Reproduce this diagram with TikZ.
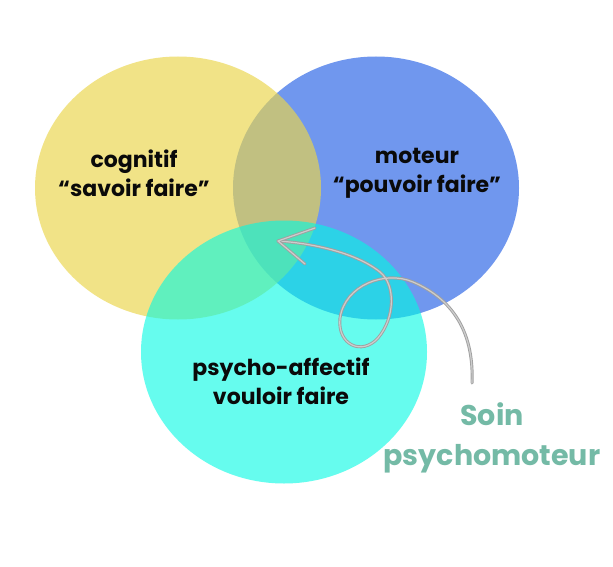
\documentclass[tikz,border=0pt]{standalone}
\usepackage{fontspec}
\setmainfont{Poppins}
\usetikzlibrary{shapes.geometric}
\definecolor{cblue}{RGB}{112,151,238}
\definecolor{cyellow}{RGB}{235,214,73}
\definecolor{ccyan}{RGB}{0,250,227}
\definecolor{cteal}{RGB}{116,186,166}
\definecolor{ctext}{RGB}{10,10,10}
\definecolor{carrow}{RGB}{160,160,160}
\definecolor{carrowin}{RGB}{205,205,205}
\tikzset{
  set/.style={ellipse, minimum width=286pt, minimum height=263pt, inner sep=0pt},
  lbl/.style={font=\bfseries\fontsize{22}{29}\selectfont, text=ctext, align=center, inner sep=0pt},
  soin/.style={font=\bfseries\fontsize{28.5}{40}\selectfont, text=cteal, align=center, inner sep=0pt},
  swirl/.style={draw=carrow, line width=0.9pt, double=carrowin, double distance=1.2pt, line cap=round, line join=round}
}
\begin{document}
\begin{tikzpicture}[x=1pt,y=-1pt]
\useasboundingbox (0,0) rectangle (613,567);
\fill[white] (0,0) rectangle (613,567);
\node[set, fill=cblue] (moteur) at (376,188) {};
\node[set, fill=cyellow, fill opacity=0.66] (cognitif) at (178,188) {};
\node[set, fill=ccyan, fill opacity=0.6] (affect) at (284,352) {};
\node[lbl] (tcog) at (134,173) {cognitif\\“savoir faire”};
\node[lbl] (tmot) at (417,173) {moteur\\“pouvoir faire”};
\node[lbl] (taff) at (281,381) {psycho-affectif\\vouloir faire};
\node[soin] (tsoin) at (492,438) {Soin\\psychomoteur};
\coordinate (tail) at (472,383);
\coordinate (tip) at (278,241);
\coordinate (b1) at (315,228);
\coordinate (b2) at (305,264);
\draw[swirl] (tail) .. controls (474,335) and (455,300) .. (413,282)
  .. controls (385,270) and (345,285) .. (340,318)
  .. controls (337,345) and (362,356) .. (378,338)
  .. controls (395,318) and (396,285) .. (380,272)
  .. controls (355,252) and (310,243) .. (tip);
\draw[swirl] (b1) -- (tip) -- (b2);
\end{tikzpicture}
\end{document}
